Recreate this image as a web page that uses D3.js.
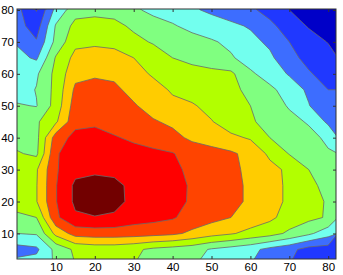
<!DOCTYPE html>
<html><head><meta charset="utf-8">
<script src="https://cdn.jsdelivr.net/npm/d3@7"></script>
<style>body{margin:0;background:#fff}</style>
</head><body><svg id="c" width="343" height="275"></svg>
<script>
// grid columns (x) and rows (y, top to bottom)
const xValues = [0,5,10,15,20,25,30,35,40,45,50,55,60,65,70,75,80];
const yValues = [80,75,70,65,60,55,50,45,40,35,30,25,20,15,10,5,0];
// field values, one row per y value
const zRows = [
  [2.3,0.95,3.3,4.6,4.7,4.6,4.2,3.7,3.5,3.15,2.8,2.5,2.15,1.7,1.0,0.5,0.4],
  [2.4,1.5,4.1,5.3,5.4,5.3,4.8,4.5,4.1,3.7,3.5,3.2,2.9,2.2,1.6,0.9,0.5],
  [2.9,2.1,4.3,5.75,5.8,5.7,5.3,4.9,4.7,4.4,4.1,3.8,3.3,2.8,2.0,1.5,0.95],
  [3.3,2.85,5.1,6.3,6.5,6.4,6.0,5.6,5.0,4.7,4.4,4.1,3.6,3.2,2.3,1.7,1.4],
  [3.4,3.85,5.3,6.7,6.85,6.8,6.3,5.9,5.6,5.4,5.3,5.2,4.15,3.6,2.9,2.1,1.6],
  [3.5,4.05,5.3,7.2,7.4,7.2,6.7,6.3,5.9,5.6,5.4,5.2,4.8,4.2,3.6,2.8,2.0],
  [4.1,3.95,5.4,7.5,7.6,7.4,7.1,6.6,6.2,6.1,5.7,5.3,5.0,4.5,3.9,3.05,2.1],
  [4.3,4.85,5.85,7.7,7.8,7.5,7.3,7.1,6.8,6.4,6.05,5.5,5.15,4.6,4.3,3.9,2.8],
  [4.6,4.7,7.5,8.3,8.4,8.1,7.8,7.6,7.3,6.8,6.5,6.2,5.9,5.0,4.6,4.3,3.8],
  [5.1,4.8,7.9,8.5,8.7,8.6,8.4,8.2,8.05,7.6,7.4,7.15,6.7,5.8,4.95,4.6,4.1],
  [5.2,5.9,7.9,8.7,8.75,8.7,8.5,8.35,8.2,7.8,7.5,7.2,6.8,6.3,5.8,5.0,4.6],
  [5.2,5.95,7.95,9.2,9.5,9.3,8.7,8.5,8.3,7.9,7.55,7.25,6.85,6.4,5.8,5.25,4.7],
  [5.2,5.95,7.95,9.2,9.5,9.3,8.75,8.5,8.25,7.9,7.55,7.25,6.85,6.4,5.8,5.35,4.9],
  [4.9,5.0,7.8,8.85,8.95,8.85,8.45,8.3,8.1,7.6,7.3,7.0,6.6,6.2,5.6,5.25,4.9],
  [4.0,4.1,6.3,7.4,7.5,7.5,7.45,7.35,7.2,6.8,6.4,6.1,5.7,5.4,4.8,4.2,3.4],
  [2.6,2.8,4.3,5.2,5.4,5.4,5.2,4.8,4.6,4.4,3.9,3.6,3.3,2.7,2.3,1.6,1.5],
  [3.4,3.5,4.1,5.0,5.2,5.2,5.0,4.6,4.4,4.1,3.6,3.3,3.0,2.4,2.0,1.4,1.3]
];
const levels = [1,2,3,4,5,6,7,8,9];
const levelColors = ["#0000c8","#2038ff","#3d6dff","#72ffee","#80ff80","#b2ff00","#ffcc00","#ff4400","#ff0000","#720000"];
const xTicks = [10,20,30,40,50,60,70,80];
const yTicks = [10,20,30,40,50,60,70,80];

const L=17, R=336, T=9, B=259;
const svg = d3.select("#c");
const x = d3.scaleLinear().domain([0,82]).range([L,R]);
const y = d3.scaleLinear().domain([2,80.3]).range([B,T]);
const nx = xValues.length, ny = yValues.length;
const values = zRows.flat();
const contours = d3.contours().size([nx, ny]).thresholds(levels)(values);
const gx = d3.scaleLinear().domain([0.5, nx-0.5]).range([xValues[0], xValues[nx-1]]);
const gy = d3.scaleLinear().domain([0.5, ny-0.5]).range([yValues[0], yValues[ny-1]]);
const proj = d3.geoTransform({point(px,py){ this.stream.point(x(gx(px)), y(gy(py))); }});
const path = d3.geoPath(proj);

svg.append("clipPath").attr("id","clip").append("rect")
  .attr("x",L).attr("y",T).attr("width",R-L).attr("height",B-T);
const g = svg.append("g").attr("clip-path","url(#clip)");
g.append("rect").attr("x",L).attr("y",T).attr("width",R-L).attr("height",B-T)
  .attr("fill",levelColors[0]);
g.selectAll("path.c").data(contours).join("path").attr("class","c")
  .attr("d",path)
  .attr("fill",d=>levelColors[levels.indexOf(d.value)+1])
  .attr("stroke","#6a6a6a").attr("stroke-width",0.8).attr("stroke-linejoin","round");

const font = "'Liberation Sans', Arial, Helvetica, sans-serif";
function styleAxis(sel){
  sel.select(".domain").remove();
  sel.selectAll("line").attr("stroke","#333");
  sel.selectAll("text").attr("font-family",font).attr("font-size",11.5).attr("fill","#000");
}
svg.append("g").attr("transform",`translate(0,${B})`)
  .call(d3.axisBottom(x).tickValues(xTicks).tickSize(-3).tickPadding(4)).call(styleAxis);
svg.append("g").attr("transform",`translate(${L},0)`)
  .call(d3.axisLeft(y).tickValues(yTicks).tickSize(-3).tickPadding(3)).call(styleAxis);
svg.append("g").attr("transform",`translate(0,${T})`)
  .call(d3.axisTop(x).tickValues(xTicks).tickSize(-3).tickFormat("")).call(styleAxis);
svg.append("g").attr("transform",`translate(${R},0)`)
  .call(d3.axisRight(y).tickValues(yTicks).tickSize(-3).tickFormat("")).call(styleAxis);
svg.append("rect").attr("x",L).attr("y",T).attr("width",R-L).attr("height",B-T)
  .attr("fill","none").attr("stroke","#333").attr("stroke-width",1);
</script>
</body></html>
